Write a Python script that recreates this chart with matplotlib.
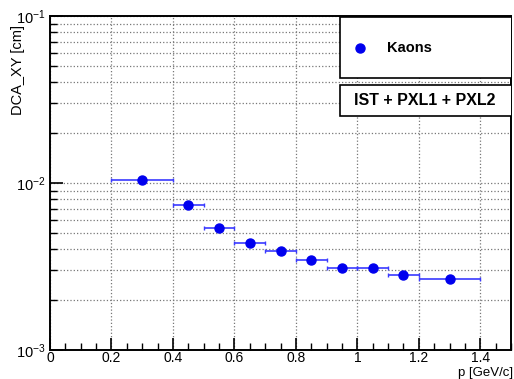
import numpy as np
import matplotlib
matplotlib.use("Agg")
import matplotlib.pyplot as plt
from matplotlib.ticker import MultipleLocator, LogLocator, NullFormatter

plt.rcParams['font.family'] = ['Liberation Sans', 'DejaVu Sans']

# data: momentum bins and DCA_XY resolution for kaons
p_center = [0.3, 0.45, 0.55, 0.65, 0.75, 0.85, 0.95, 1.05, 1.15, 1.3]
p_low = [0.2, 0.4, 0.5, 0.6, 0.7, 0.8, 0.9, 1.0, 1.1, 1.2]
p_high = [0.4, 0.5, 0.6, 0.7, 0.8, 0.9, 1.0, 1.1, 1.2, 1.4]
dca_xy = [0.0104, 0.00738, 0.0054, 0.00437, 0.00392, 0.00344, 0.00308, 0.00309, 0.0028, 0.00266]

xerr = [np.array(p_center) - np.array(p_low), np.array(p_high) - np.array(p_center)]

fig = plt.figure(figsize=(5.14, 3.79), dpi=100)
ax = fig.add_axes([0.0973, 0.0765, 0.897, 0.8813])

ax.errorbar(p_center, dca_xy, xerr=xerr, fmt='o', color='#0000ee', ecolor='#3a3aff',
            markersize=6.5, elinewidth=1.2, capsize=1.5, capthick=1.0, zorder=3)

ax.set_yscale('log')
ax.set_xlim(0, 1.5)
ax.set_ylim(1e-3, 1e-1)

ax.xaxis.set_major_locator(MultipleLocator(0.2))
ax.xaxis.set_minor_locator(MultipleLocator(0.05))
ax.xaxis.set_major_formatter(plt.FuncFormatter(lambda v, pos: ('%g' % round(v, 2))))
ax.yaxis.set_major_locator(LogLocator(base=10))
ax.yaxis.set_minor_locator(LogLocator(base=10, subs=np.arange(2, 10)))
ax.yaxis.set_minor_formatter(NullFormatter())

ax.grid(True, which='major', axis='x', linestyle=':', color='#777777', linewidth=0.9)
ax.grid(True, which='both', axis='y', linestyle=':', color='#777777', linewidth=0.9)
ax.set_axisbelow(True)

ax.tick_params(axis='both', which='major', direction='in', length=9, width=1.2, labelsize=10.5)
ax.tick_params(axis='x', which='major', labelsize=10)
ax.tick_params(axis='both', which='minor', direction='in', length=5, width=1.0)
ax.tick_params(axis='x', pad=1)

for s in ax.spines.values():
    s.set_linewidth(1.4)

# axis titles placed like the ROOT canvas
fig.text(18 / 514, 1 - 70 / 379, 'DCA_XY [cm]', rotation=90, fontsize=10.5,
         ha='center', va='center')
fig.text(513 / 514, 0.0, 'p [GeV/c]', fontsize=9.5, ha='right', va='bottom')

# legend box
legend_box = plt.Rectangle((0.628, 0.815), 0.38, 0.183, transform=ax.transAxes,
                           facecolor='white', edgecolor='black', linewidth=1.2, zorder=4)
ax.add_patch(legend_box)
ax.plot([0.672], [0.905], 'o', color='#0000ee', markersize=6.5, transform=ax.transAxes, zorder=5)
ax.text(0.73, 0.905, 'Kaons', transform=ax.transAxes, fontsize=10.5, fontweight='bold',
        va='center', ha='left', zorder=5)

tag_box = plt.Rectangle((0.628, 0.7), 0.38, 0.092, transform=ax.transAxes,
                        facecolor='white', edgecolor='black', linewidth=1.2, zorder=4)
ax.add_patch(tag_box)
ax.text(0.812, 0.746, 'IST + PXL1 + PXL2', transform=ax.transAxes, fontsize=11.5,
        fontweight='bold', va='center', ha='center', zorder=5)

fig.savefig('out.png', dpi=100)
